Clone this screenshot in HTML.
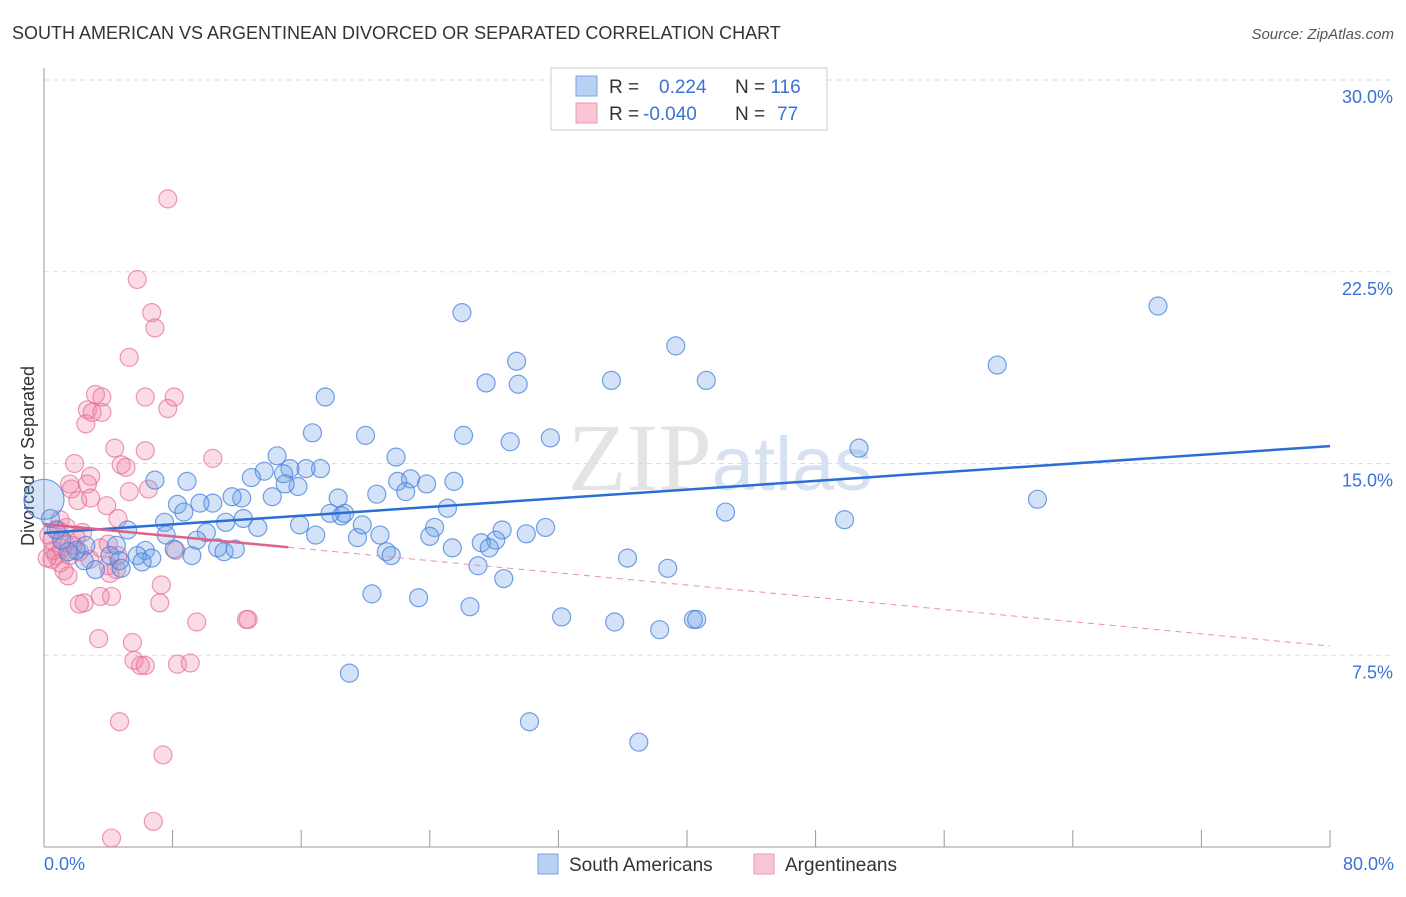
<!DOCTYPE html>
<html><head><meta charset="utf-8"><style>
body{margin:0;background:#fff;font-family:"Liberation Sans",sans-serif}
</style></head><body>
<svg width="1406" height="892" xmlns="http://www.w3.org/2000/svg" font-family="Liberation Sans, sans-serif">
<text x="12" y="39" font-size="18" fill="#333">SOUTH AMERICAN VS ARGENTINEAN DIVORCED OR SEPARATED CORRELATION CHART</text>
<text x="1394" y="39" font-size="15" fill="#555" font-style="italic" text-anchor="end">Source: ZipAtlas.com</text>
<text x="720" y="490" font-size="96" fill="#e4e4e4" text-anchor="middle" font-family="Liberation Serif, serif">ZIP<tspan fill="#d6e2f2" font-family="Liberation Sans, sans-serif" font-size="76">atlas</tspan></text>
<g id="grid"></g>
<line x1="44" y1="68" x2="44" y2="847" stroke="#999"/>
<line x1="44" y1="847" x2="1330" y2="847" stroke="#999"/>
<text transform="translate(34,456) rotate(-90)" font-size="18" fill="#333" text-anchor="middle">Divorced or Separated</text>
<text x="44" y="870" font-size="18" fill="#3a72d8">0.0%</text>
<text x="1394" y="870" font-size="18" fill="#3a72d8" text-anchor="end">80.0%</text>
<g id="pts"></g>
<g id="lines"></g>
<g>
<rect x="551" y="68" width="276" height="62" fill="#fff" stroke="#ccc"/>
<rect x="576" y="76" width="21" height="20" fill="#b8d0f2" stroke="#7aa6e6"/>
<rect x="576" y="103" width="21" height="20" fill="#f8c6d4" stroke="#ec98b2"/>
<text x="609" y="93" font-size="19" fill="#333">R = <tspan fill="#3a72d8" x="659">0.224</tspan><tspan x="735">N = </tspan><tspan fill="#3a72d8">116</tspan></text>
<text x="609" y="120" font-size="19" fill="#333">R = <tspan fill="#3a72d8" x="643">-0.040</tspan><tspan x="735">N = </tspan><tspan fill="#3a72d8" x="777">77</tspan></text>
</g>
<g><rect x="538" y="854" width="20" height="20" fill="#b8d0f2" stroke="#7aa6e6"/><text x="569" y="871" font-size="19" fill="#333">South Americans</text></g>
<g><rect x="754" y="854" width="20" height="20" fill="#f8c6d4" stroke="#ec98b2"/><text x="785" y="871" font-size="19" fill="#333">Argentineans</text></g>
</svg>
<script>
const yTicks=[7.5,15,22.5,30];
const yTickLabels=["7.5%","15.0%","22.5%","30.0%"];
const xTicks=[0,8,16,24,32,40,48,56,64,72,80];
const blueX=[69.3,59.3,26.0,39.3,29.4,27.5,29.5,35.3,41.2,17.5,16.7,20.0,26.1,29.0,31.5,50.7,21.9,14.5,61.8,42.4,49.8,22.8,23.8,25.5,22.0,22.5,20.7,25.1,24.3,24.0,31.2,28.5,30.0,28.1,27.2,27.7,25.4,27.0,28.6,21.3,21.6,20.9,19.5,19.8,18.5,18.7,17.8,18.3,15.9,16.9,17.2,16.3,15.3,13.7,14.9,15.8,15.0,12.9,14.2,12.3,11.7,12.4,13.3,11.3,10.5,9.7,8.9,8.3,8.7,7.5,6.9,5.2,7.6,10.1,9.5,10.8,11.2,11.9,8.1,9.2,6.3,5.8,6.7,6.1,4.5,4.1,4.7,4.8,3.2,2.5,2.6,2.0,1.5,1.1,0.75,0.4,20.4,23.3,26.5,32.2,35.5,38.3,40.4,40.6,36.3,38.8,19.0,30.2,37.0,0.0];
const blueY=[21.16,18.85,20.9,19.6,19.0,18.15,18.1,18.25,18.25,17.6,16.2,16.1,16.1,15.85,16.0,15.6,15.25,15.3,13.6,13.1,12.8,14.4,14.2,14.3,14.3,13.9,13.8,13.25,12.5,12.15,12.5,12.4,12.25,12.0,11.9,11.7,11.7,11.0,10.5,11.55,11.4,12.2,12.1,12.6,12.95,13.05,13.05,13.65,12.6,12.2,14.8,14.8,14.8,14.7,14.6,14.1,14.2,14.45,13.7,13.65,13.7,12.85,12.5,12.7,13.45,13.45,14.3,13.4,13.1,12.7,14.35,12.4,12.2,12.3,12.0,11.7,11.55,11.65,11.65,11.4,11.6,11.4,11.3,11.15,11.8,11.4,11.2,10.9,10.85,11.2,11.8,11.6,11.55,12.0,12.4,12.85,9.9,9.75,9.4,9.0,8.8,8.5,8.9,8.9,11.3,10.9,6.8,4.9,4.1,13.6];
const pinkX=[7.7,5.8,6.7,6.9,5.3,3.2,3.6,6.3,8.1,2.7,3.0,3.6,7.7,2.6,4.4,6.3,10.5,1.9,4.8,5.1,2.9,1.6,1.7,2.7,5.3,6.5,2.1,2.9,3.9,4.6,1.0,1.4,0.9,0.5,1.1,0.75,0.5,1.0,1.25,3.5,4.0,4.6,4.0,4.5,4.1,2.85,2.2,1.6,8.2,7.3,4.2,2.5,3.5,2.2,7.2,9.5,12.7,3.4,5.5,5.6,6.0,6.3,8.3,9.1,4.7,7.4,6.8,4.2,12.6,2.0,1.3,0.3,0.6,1.8,2.4,0.2,1.5];
const pinkY=[25.35,22.2,20.9,20.3,19.15,17.7,17.6,17.6,17.6,17.1,17.0,17.0,17.15,16.55,15.6,15.5,15.2,15.0,14.95,14.85,14.5,14.2,14.0,14.2,13.9,14.0,13.55,13.65,13.35,12.85,12.8,12.5,12.4,12.0,11.7,11.4,11.25,11.1,10.8,11.7,11.85,11.4,11.0,10.85,10.7,11.25,11.55,11.4,11.6,10.25,9.8,9.55,9.8,9.5,9.55,8.8,8.9,8.15,8.0,7.3,7.1,7.1,7.15,7.2,4.9,3.6,1.0,0.35,8.9,12.1,11.9,12.2,11.6,11.8,12.3,11.3,10.6];
const blueLine=[12.28,15.68];
const pinkLine=[12.63,7.86];
const pinkSolidEnd=15.2;
const NS="http://www.w3.org/2000/svg";
const X=v=>44+v*(1286/80), Y=v=>847-v*(767/30);
function mk(t,a,p){const e=document.createElementNS(NS,t);for(const k in a)e.setAttribute(k,a[k]);p.appendChild(e);return e;}
const grid=document.getElementById('grid');
yTicks.forEach((t,i)=>{
 const l=mk('line',{x1:44,x2:1393,y1:Y(t),y2:Y(t),stroke:'#ddd','stroke-dasharray':'5,4'},grid);
 
 
 const tx=mk('text',{x:1393,y:Y(t)+23,'font-size':18,fill:'#3a72d8','text-anchor':'end'},grid);
 tx.textContent=yTickLabels[i];
 
 
});
xTicks.forEach(t=>{
 const l=mk('line',{x1:X(t),x2:X(t),y1:830,y2:847,stroke:'#999'},grid);
 
 
});
const pts=document.getElementById('pts');
pinkX.forEach((x,i)=>{
 const c=mk('circle',{cx:X(x),cy:Y(pinkY[i]),r:9,fill:'rgba(240,130,165,0.28)',stroke:'rgba(228,110,150,0.7)','stroke-width':1.2},pts);
 
 
});
blueX.forEach((x,i)=>{
 const big=i===blueX.length-1;
 const c=mk('circle',{cx:X(x),cy:Y(blueY[i]),r:big?20:9,fill:'rgba(110,160,230,0.3)',stroke:'rgba(70,130,220,0.75)','stroke-width':1.2},pts);
 
 
});
const ln=document.getElementById('lines');
const pAt=v=>pinkLine[0]+(pinkLine[1]-pinkLine[0])*v/80;
let a=mk('line',{x1:X(0),y1:Y(blueLine[0]),x2:X(80),y2:Y(blueLine[1]),stroke:'#2a6fd6','stroke-width':2.5},ln);


a=mk('line',{x1:X(0),y1:Y(pinkLine[0]),x2:X(pinkSolidEnd),y2:Y(pAt(pinkSolidEnd)),stroke:'#e0608a','stroke-width':2.5},ln);


a=mk('line',{x1:X(pinkSolidEnd),y1:Y(pAt(pinkSolidEnd)),x2:X(80),y2:Y(pinkLine[1]),stroke:'#e890ac','stroke-width':1,'stroke-dasharray':'6,5'},ln);


</script>
</body></html>
